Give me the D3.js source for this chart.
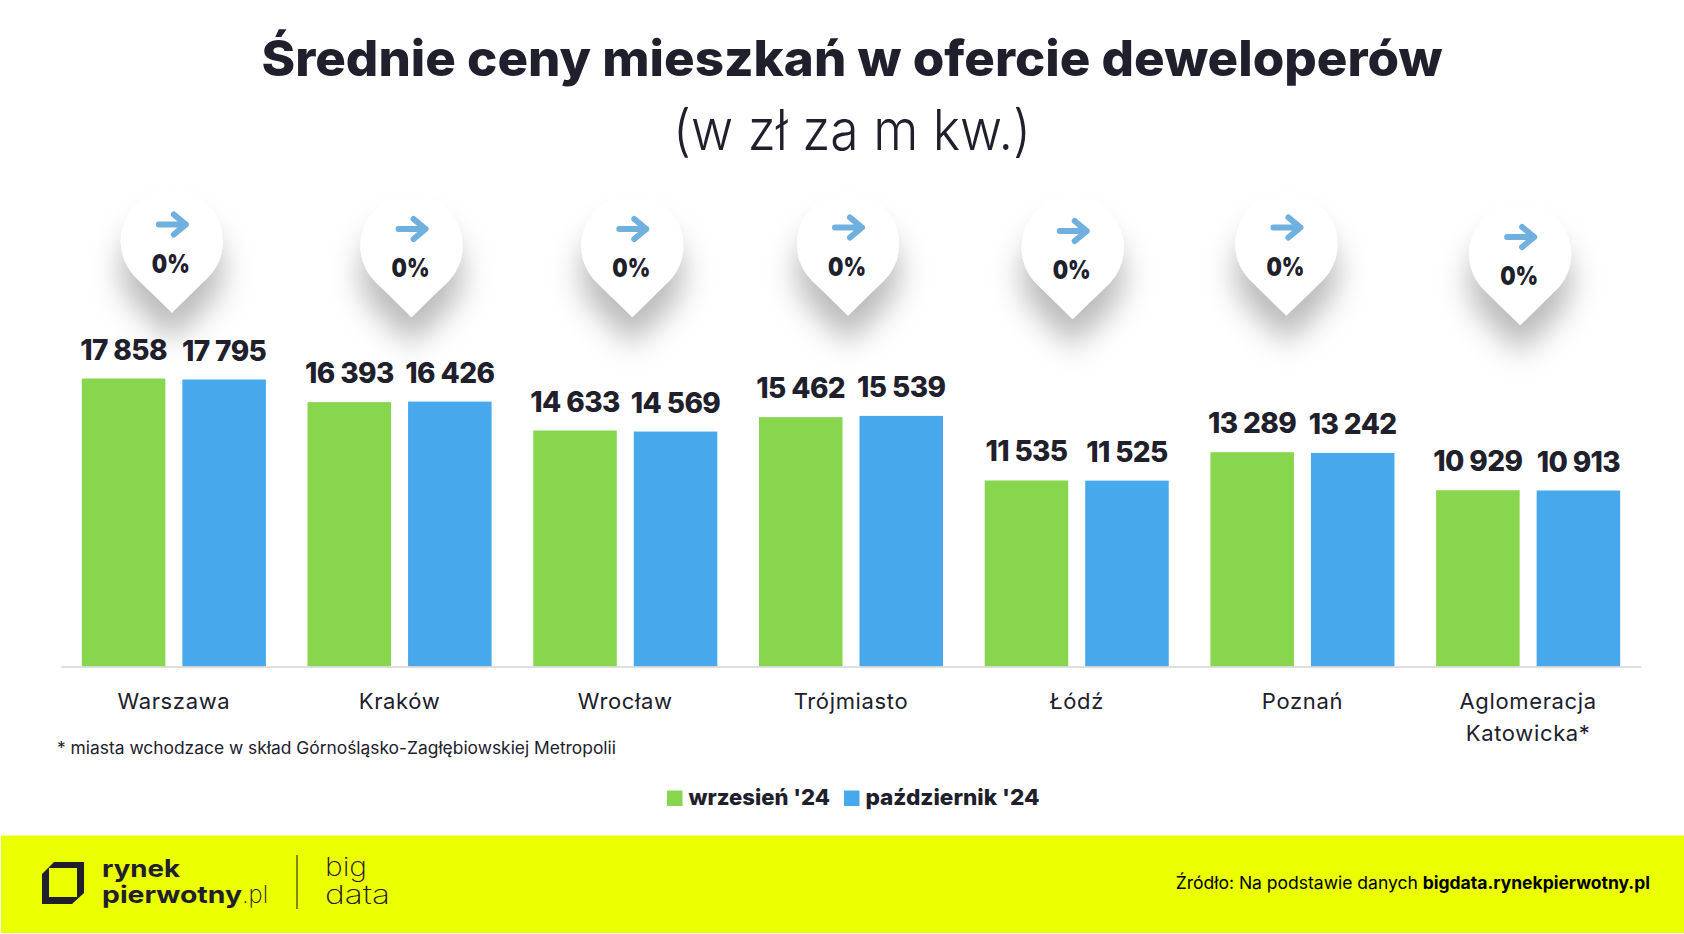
<!DOCTYPE html>
<html lang="pl">
<head>
<meta charset="utf-8">
<script src="https://cdn.jsdelivr.net/npm/d3@7/dist/d3.min.js"></script>
<style>
  body { margin: 0; background: #fff; }
  svg { display: block; }
  text { font-family: Inter, "Noto Sans", sans-serif; fill: #20202c; }
</style>
</head>
<body>
<svg id="chart"></svg>
<script>
const cities = ['Warszawa', 'Kraków', 'Wrocław', 'Trójmiasto', 'Łódź', 'Poznań', 'Aglomeracja Katowicka*'];
const seriesNames = ["wrzesień '24", "październik '24"];
const september = [17858, 16393, 14633, 15462, 11535, 13289, 10929];
const october = [17795, 16426, 14569, 15539, 11525, 13242, 10913];
const changes = ['0%', '0%', '0%', '0%', '0%', '0%', '0%'];

const width = 1684;
const height = 934;
const margin = { left: 61, right: 43, baseline: 666.5, top: 378.5 };
const colors = ['#88d64e', '#47a9ec'];
const dark = '#20202c';

// the pins are placed by hand in the original, not centred on the groups
const pinShift = [-2, 12, 7, -3, -4, -16, -8];
const pinTip = [312.5, 317, 317, 315.5, 319, 315.5, 325];

const svg = d3.select('#chart').attr('width', width).attr('height', height);

const defs = svg.append('defs');
defs.append('filter')
  .attr('id', 'pinShadow')
  .attr('x', '-80%').attr('y', '-50%')
  .attr('width', '260%').attr('height', '230%')
  .append('feDropShadow')
  .attr('dx', 0).attr('dy', 28)
  .attr('stdDeviation', 15)
  .attr('flood-color', '#000')
  .attr('flood-opacity', 0.27);

const x = d3.scaleBand()
  .domain(cities)
  .range([margin.left, width - margin.right])
  .paddingInner(0.1846)
  .paddingOuter(0.0923);

const xInner = d3.scaleBand()
  .domain(d3.range(seriesNames.length))
  .range([0, x.bandwidth()])
  .paddingInner(0.169);

const y = d3.scaleLinear()
  .domain([0, d3.max(september.concat(october))])
  .range([margin.baseline, margin.top]);

const fmt = v => d3.format(',')(v).replace(',', ' ');

// title
svg.append('text')
  .attr('x', 852).attr('y', 76)
  .attr('text-anchor', 'middle')
  .attr('font-size', 50)
  .attr('font-weight', 800)
  .attr('textLength', 1181)
  .attr('lengthAdjust', 'spacingAndGlyphs')
  .text('Średnie ceny mieszkań w ofercie deweloperów');
svg.append('text')
  .attr('x', 852).attr('y', 150)
  .attr('text-anchor', 'middle')
  .attr('font-size', 56)
  .attr('font-weight', 300)
  .attr('textLength', 358)
  .attr('lengthAdjust', 'spacingAndGlyphs')
  .text('(w zł za m kw.)');

// bars and value labels
[september, october].forEach((series, s) => {
  const g = svg.append('g');
  g.selectAll('rect')
    .data(series)
    .join('rect')
    .attr('x', (d, i) => x(cities[i]) + xInner(s))
    .attr('y', d => y(d))
    .attr('width', xInner.bandwidth())
    .attr('height', d => y(0) - y(d))
    .attr('fill', colors[s]);
  g.selectAll('text')
    .data(series)
    .join('text')
    .attr('x', (d, i) => x(cities[i]) + xInner(s) + xInner.bandwidth() / 2)
    .attr('y', d => y(d) - 19)
    .attr('text-anchor', 'middle')
    .attr('font-size', 28)
    .attr('font-weight', 800)
    .attr('letter-spacing', -0.6)
    .text(fmt);
});

// axis
const axis = svg.append('g')
  .attr('transform', `translate(0,${margin.baseline})`)
  .call(d3.axisBottom(x).tickSize(0).tickSizeOuter(0));
axis.select('.domain').attr('stroke', '#d5d5d5').attr('stroke-width', 1.5);
axis.selectAll('.tick text').each(function (d) {
  const words = d === 'Aglomeracja Katowicka*' ? d.split(' ') : [d];
  const t = d3.select(this).text(null)
    .attr('y', 42).attr('dy', null)
    .attr('font-family', 'Inter, sans-serif')
    .attr('font-size', 22)
    .attr('letter-spacing', 0.65)
    .attr('fill', dark);
  words.forEach((w, i) => t.append('tspan').attr('x', 0).attr('dy', i ? 32.5 : 0).text(w));
});

// pins
const pin = svg.append('g').selectAll('g')
  .data(changes)
  .join('g')
  .attr('transform', (d, i) => `translate(${x(cities[i]) + x.bandwidth() / 2 + pinShift[i]},${pinTip[i]})`);
pin.append('path')
  .attr('d', 'M0,0L-35.4,-34.4A51,51 0 1 1 35.4,-34.4Z')
  .attr('fill', '#fff')
  .attr('filter', 'url(#pinShadow)');
pin.append('path')
  .attr('d', 'M-13,-88H14M2,-98L14,-88L2,-78')
  .attr('fill', 'none')
  .attr('stroke', '#6fb0df')
  .attr('stroke-width', 6)
  .attr('stroke-linecap', 'round')
  .attr('stroke-linejoin', 'round');
pin.append('text')
  .attr('x', -1).attr('y', -40)
  .attr('text-anchor', 'middle')
  .attr('font-size', 26)
  .attr('font-weight', 900)
  .attr('textLength', 38)
  .attr('lengthAdjust', 'spacingAndGlyphs')
  .text(d => d);

// footnote
svg.append('text')
  .attr('x', 57).attr('y', 754)
  .attr('font-size', 17)
  .attr('textLength', 559)
  .attr('lengthAdjust', 'spacingAndGlyphs')
  .text('* miasta wchodzace w skład Górnośląsko-Zagłębiowskiej Metropolii');

// legend
const legendX = [667, 844];
const legendW = [141.5, 174];
const legend = svg.append('g').selectAll('g')
  .data(seriesNames)
  .join('g')
  .attr('transform', (d, i) => `translate(${legendX[i]},790.5)`);
legend.append('rect')
  .attr('width', 15.5).attr('height', 15.5)
  .attr('fill', (d, i) => colors[i]);
legend.append('text')
  .attr('x', 21.5).attr('y', 14)
  .attr('font-size', 22)
  .attr('font-weight', 800)
  .attr('textLength', (d, i) => legendW[i])
  .attr('lengthAdjust', 'spacingAndGlyphs')
  .text(d => d);

// footer band with the logos
svg.append('rect')
  .attr('x', 1).attr('y', 835.5)
  .attr('width', width - 1).attr('height', 97.5)
  .attr('fill', '#ebff00');
svg.append('path')
  .attr('d', 'M54,862H84V893L72,904H42V874ZM49,868V897H77V868Z')
  .attr('fill', dark)
  .attr('fill-rule', 'evenodd');

const logo = svg.append('text').attr('font-size', 24);
logo.append('tspan')
  .attr('x', 102).attr('y', 877)
  .attr('font-weight', 700)
  .attr('textLength', 78).attr('lengthAdjust', 'spacingAndGlyphs')
  .text('rynek');
logo.append('tspan')
  .attr('x', 102).attr('y', 903)
  .attr('font-weight', 700)
  .attr('textLength', 140).attr('lengthAdjust', 'spacingAndGlyphs')
  .text('pierwotny');
logo.append('tspan')
  .attr('x', 242).attr('y', 903)
  .attr('font-weight', 200)
  .attr('textLength', 26).attr('lengthAdjust', 'spacingAndGlyphs')
  .text('.pl');

svg.append('line')
  .attr('x1', 297).attr('x2', 297).attr('y1', 855).attr('y2', 909)
  .attr('stroke', '#5c6220').attr('stroke-width', 1.5);

const bigData = svg.append('text').attr('font-size', 26).attr('font-weight', 200);
bigData.append('tspan')
  .attr('x', 325).attr('y', 876)
  .attr('textLength', 42).attr('lengthAdjust', 'spacingAndGlyphs')
  .text('big');
bigData.append('tspan')
  .attr('x', 325).attr('y', 904)
  .attr('textLength', 65).attr('lengthAdjust', 'spacingAndGlyphs')
  .text('data');

const source = svg.append('text')
  .attr('x', 1650).attr('y', 888.5)
  .attr('text-anchor', 'end')
  .attr('font-size', 17.5)
  .style('fill', '#000');
source.append('tspan').text('Źródło: Na podstawie danych ');
source.append('tspan').attr('font-weight', 700).text('bigdata.rynekpierwotny.pl');
</script>
</body>
</html>
